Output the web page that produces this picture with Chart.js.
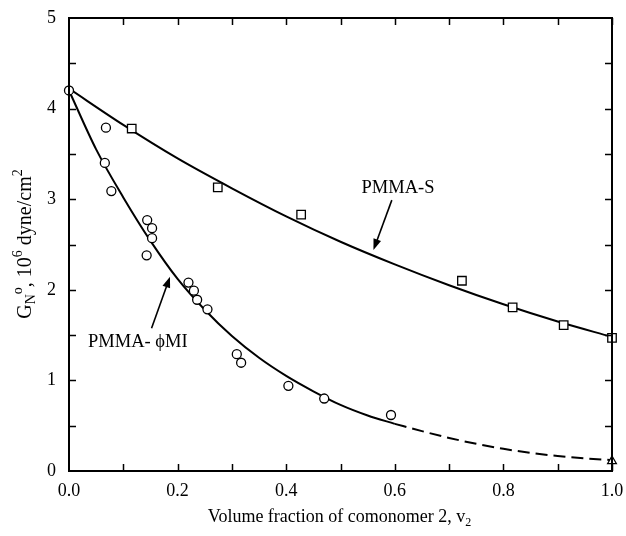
<!DOCTYPE html>
<html>
<head>
<meta charset="utf-8">
<script src="https://cdn.jsdelivr.net/npm/chart.js@4"></script>
<style>
  body { margin: 0; background: #fff; }
</style>
</head>
<body>
<canvas id="chart" width="626" height="536"></canvas>
<script>
// measured points, PMMA-phiMI copolymers (circles)
const circleX = [0, 0.066, 0.068, 0.078, 0.144, 0.153, 0.153, 0.143, 0.22, 0.23, 0.236, 0.255, 0.309, 0.317, 0.404, 0.47, 0.593];
const circleY = [4.2, 3.40, 3.79, 3.09, 2.77, 2.68, 2.57, 2.38, 2.08, 1.99, 1.89, 1.785, 1.29, 1.195, 0.94, 0.80, 0.618];
// PMMA-S copolymers (squares)
const squareX = [0.1155, 0.274, 0.4275, 0.7236, 0.817, 0.911, 1.0];
const squareY = [3.78, 3.13, 2.83, 2.10, 1.807, 1.61, 1.47];
// pure comonomer 2 (triangle)
const triangleX = [1.0];
const triangleY = [0.11];

// fitted curves
const sCurveX = [0, 0.1, 0.2, 0.3, 0.4, 0.5, 0.6, 0.7, 0.8, 0.9, 1.0];
const sCurveY = [4.22, 3.82, 3.45, 3.12, 2.81, 2.53, 2.28, 2.05, 1.84, 1.65, 1.48];
const miCurveX = [0, 0.05, 0.1, 0.15, 0.2, 0.25, 0.3, 0.35, 0.4, 0.45, 0.5, 0.55, 0.6];
const miCurveY = [4.2, 3.55, 3.02, 2.54, 2.12, 1.78, 1.49, 1.25, 1.05, 0.88, 0.73, 0.613, 0.52];
const miDashX = [0.6, 0.65, 0.7, 0.75, 0.8, 0.85, 0.9, 0.95, 1.0];
const miDashY = [0.52, 0.44, 0.365, 0.30, 0.245, 0.20, 0.165, 0.14, 0.12];

const xTicks = [0, 0.2, 0.4, 0.6, 0.8, 1.0];
const yTicks = [0, 1, 2, 3, 4, 5];

const serif = "'Liberation Serif', 'Times New Roman', 'DejaVu Serif', serif";
Chart.defaults.font.family = serif;
Chart.defaults.color = "#000";

const pts = (xs, ys) => xs.map((x, i) => ({ x: x, y: ys[i] }));

const curve = (xs, ys, dash) => ({
  data: pts(xs, ys),
  showLine: true,
  borderColor: "#000",
  borderWidth: 2,
  borderDash: dash || [],
  pointRadius: 0,
  cubicInterpolationMode: "monotone",
  order: 2,
});

const marks = (xs, ys, style, r) => ({
  data: pts(xs, ys),
  showLine: false,
  clip: false,
  pointStyle: style,
  pointRadius: r,
  pointBorderWidth: 1.3,
  pointBorderColor: "#000",
  pointBackgroundColor: "#fff",
  order: 1,
});

// text labels with arrows, in data units
const notes = [
  { text: "PMMA-S", x: 0.606, y: 3.07, align: "center", from: [0.5945, 2.99], to: [0.5607, 2.44] },
  { text: "PMMA- \u03D5MI", x: 0.035, y: 1.37, align: "left", from: [0.152, 1.575], to: [0.186, 2.145] },
];

const decor = {
  id: "decor",
  afterDraw(chart) {
    const ctx = chart.ctx;
    const a = chart.chartArea;
    const xs = chart.scales.x, ys = chart.scales.y;
    ctx.save();
    ctx.strokeStyle = "#000";
    ctx.lineWidth = 2;
    ctx.strokeRect(a.left, a.top, a.right - a.left, a.bottom - a.top);
    // inward ticks on all four sides
    ctx.lineWidth = 1.5;
    ctx.beginPath();
    for (let v = 0.1; v < 1; v += 0.1) {
      const px = Math.round(xs.getPixelForValue(v)) + 0.5;
      ctx.moveTo(px, a.bottom); ctx.lineTo(px, a.bottom - 7);
      ctx.moveTo(px, a.top); ctx.lineTo(px, a.top + 7);
    }
    for (let v = 0.5; v < 5; v += 0.5) {
      const py = Math.round(ys.getPixelForValue(v)) + 0.5;
      ctx.moveTo(a.left, py); ctx.lineTo(a.left + 7, py);
      ctx.moveTo(a.right, py); ctx.lineTo(a.right - 7, py);
    }
    ctx.stroke();

    // annotations
    ctx.fillStyle = "#000";
    ctx.font = "18.5px " + serif;
    ctx.textBaseline = "alphabetic";
    notes.forEach(n => {
      ctx.textAlign = n.align;
      ctx.fillText(n.text, xs.getPixelForValue(n.x), ys.getPixelForValue(n.y));
      const x0 = xs.getPixelForValue(n.from[0]), y0 = ys.getPixelForValue(n.from[1]);
      const x1 = xs.getPixelForValue(n.to[0]), y1 = ys.getPixelForValue(n.to[1]);
      const ang = Math.atan2(y1 - y0, x1 - x0);
      const hl = 11, hw = 4;
      ctx.lineWidth = 1.6;
      ctx.beginPath();
      ctx.moveTo(x0, y0);
      ctx.lineTo(x1 - Math.cos(ang) * hl * 0.8, y1 - Math.sin(ang) * hl * 0.8);
      ctx.stroke();
      ctx.beginPath();
      ctx.moveTo(x1, y1);
      ctx.lineTo(x1 - Math.cos(ang) * hl - Math.sin(ang) * hw, y1 - Math.sin(ang) * hl + Math.cos(ang) * hw);
      ctx.lineTo(x1 - Math.cos(ang) * hl + Math.sin(ang) * hw, y1 - Math.sin(ang) * hl - Math.cos(ang) * hw);
      ctx.closePath();
      ctx.fill();
    });

    // x title
    ctx.font = "18px " + serif;
    const xt = "Volume fraction of comonomer 2, v";
    const xw = ctx.measureText(xt).width;
    const xc = 340, xb = 522;
    ctx.textAlign = "left";
    ctx.fillText(xt, xc - (xw + 7) / 2, xb);
    ctx.font = "12px " + serif;
    ctx.fillText("2", xc - (xw + 7) / 2 + xw, xb + 4);

    // y title with sub/superscripts, rotated
    const parts = [
      { t: "G", s: 20, dy: 0 },
      { t: "N", s: 14, dy: 4 },
      { t: "o", s: 14, dy: -9 },
      { t: ", 10", s: 20, dy: 0 },
      { t: "6", s: 14, dy: -9 },
      { t: " dyne/cm", s: 20, dy: 0 },
      { t: "2", s: 14, dy: -9 },
    ];
    let total = 0;
    parts.forEach(p => { ctx.font = p.s + "px " + serif; p.w = ctx.measureText(p.t).width; total += p.w; });
    ctx.translate(31, 244);
    ctx.rotate(-Math.PI / 2);
    let cx = -total / 2;
    parts.forEach(p => {
      ctx.font = p.s + "px " + serif;
      ctx.fillText(p.t, cx, p.dy);
      cx += p.w;
    });
    ctx.restore();
  },
};

new Chart(document.getElementById("chart"), {
  type: "scatter",
  data: {
    datasets: [
      curve(sCurveX, sCurveY),
      curve(miCurveX, miCurveY),
      curve(miDashX, miDashY, [12, 6]),
      marks(circleX, circleY, "circle", 4.5),
      marks(squareX, squareY, "rect", 6),
      marks(triangleX, triangleY, "triangle", 5),
    ],
  },
  options: {
    responsive: false,
    animation: false,
    layout: { padding: { left: 0, top: 18, right: 14, bottom: 0 } },
    plugins: { legend: { display: false }, tooltip: { enabled: false } },
    scales: {
      x: {
        type: "linear",
        min: 0,
        max: 1,
        afterBuildTicks: (s) => { s.ticks = xTicks.map(v => ({ value: v })); },
        afterFit: (s) => { s.height = 65; s.paddingLeft = 0; s.paddingRight = 0; },
        grid: { display: false, drawTicks: false },
        border: { display: false },
        ticks: { padding: 9, font: { size: 18 }, callback: (v) => Number(v).toFixed(1), maxRotation: 0 },
      },
      y: {
        type: "linear",
        min: 0,
        max: 5,
        afterBuildTicks: (s) => { s.ticks = yTicks.map(v => ({ value: v })); },
        afterFit: (s) => { s.width = 69; s.paddingTop = 0; s.paddingBottom = 0; },
        grid: { display: false, drawTicks: false },
        border: { display: false },
        ticks: { padding: 13, font: { size: 18 } },
      },
    },
  },
  plugins: [decor],
});
</script>
</body>
</html>
